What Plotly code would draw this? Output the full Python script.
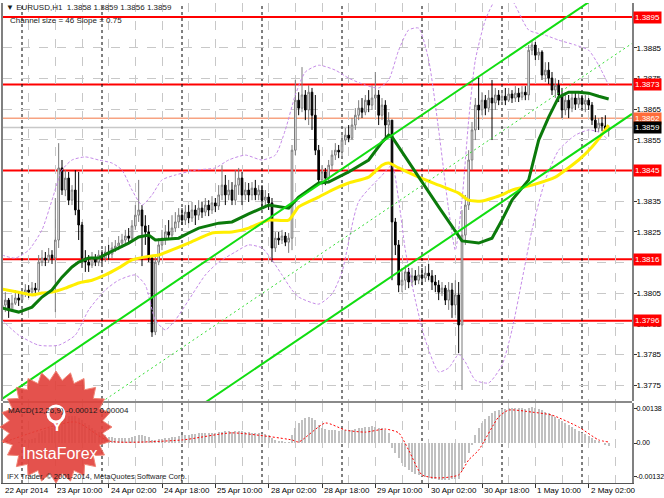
import math
import plotly.graph_objects as go
from plotly.subplots import make_subplots

# geometry of the picture (px)
W, H = 664, 498
ML, MR, MT, MB = 3, 32, 3, 15
PW, PH = W - ML - MR, H - MT - MB


def paper(x, y):
    return (x - ML) / PW, (H - MB - y) / PH


#------------------------------------------------------------------------------------------------
# EURUSD H1, 22 Apr 18:00 .. 2 May 08:00 (bar index)
first_open = 1.38000
closes = [
    1.38011, 1.38027, 1.37995, 1.38017, 1.38034, 1.38027, 1.38047, 1.38060, 1.38053, 1.38066,
    1.38060, 1.38151, 1.38164, 1.38158, 1.38174, 1.38164, 1.38223, 1.38458, 1.38386, 1.38425,
    1.38353, 1.38386, 1.38321, 1.38272, 1.38164, 1.38151, 1.38141, 1.38164, 1.38151, 1.38174,
    1.38164, 1.38184, 1.38177, 1.38197, 1.38203, 1.38213, 1.38223, 1.38236, 1.38229, 1.38269,
    1.38304, 1.38321, 1.38269, 1.38249, 1.38164, 1.37923, 1.38151, 1.38207, 1.38229, 1.38249,
    1.38239, 1.38262, 1.38282, 1.38304, 1.38288, 1.38314, 1.38295, 1.38321, 1.38304, 1.38327,
    1.38314, 1.38337, 1.38321, 1.38344, 1.38334, 1.38370, 1.38402, 1.38370, 1.38386, 1.38353,
    1.38402, 1.38425, 1.38370, 1.38386, 1.38370, 1.38392, 1.38370, 1.38386, 1.38353, 1.38363,
    1.38344, 1.38197, 1.38229, 1.38223, 1.38236, 1.38216, 1.38229, 1.38516, 1.38679, 1.38653,
    1.38696, 1.38647, 1.38705, 1.38630, 1.38516, 1.38419, 1.38445, 1.38425, 1.38467, 1.38500,
    1.38516, 1.38510, 1.38549, 1.38565, 1.38555, 1.38598, 1.38630, 1.38653, 1.38640, 1.38679,
    1.38663, 1.38686, 1.38696, 1.38630, 1.38663, 1.38598, 1.38614, 1.38282, 1.38207, 1.38076,
    1.38092, 1.38119, 1.38086, 1.38106, 1.38092, 1.38109, 1.38099, 1.38115, 1.38106, 1.38086,
    1.38076, 1.38053, 1.38066, 1.38027, 1.38060, 1.38011, 1.38044, 1.37946, 1.38239, 1.38337,
    1.38484, 1.38582, 1.38663, 1.38647, 1.38679, 1.38653, 1.38686, 1.38670, 1.38696, 1.38679,
    1.38692, 1.38679, 1.38699, 1.38686, 1.38702, 1.38689, 1.38705, 1.38696, 1.38842, 1.38859,
    1.38826, 1.38836, 1.38761, 1.38777, 1.38751, 1.38712, 1.38728, 1.38696, 1.38647, 1.38679,
    1.38653, 1.38686, 1.38666, 1.38686, 1.38666, 1.38679, 1.38663, 1.38614, 1.38588, 1.38604,
    1.38595, 1.38580, 1.38590,
]
highs = [
    1.38044, 1.38053, 1.38034, 1.38044, 1.38060, 1.38053, 1.38066, 1.38079, 1.38076, 1.38086,
    1.38083, 1.38174, 1.38190, 1.38184, 1.38197, 1.38190, 1.38360, 1.38539, 1.38484, 1.38451,
    1.38445, 1.38402, 1.38451, 1.38445, 1.38282, 1.38190, 1.38174, 1.38184, 1.38177, 1.38190,
    1.38190, 1.38203, 1.38207, 1.38216, 1.38223, 1.38236, 1.38243, 1.38256, 1.38262, 1.38288,
    1.38337, 1.38419, 1.38337, 1.38304, 1.38272, 1.38174, 1.38174, 1.38229, 1.38256, 1.38272,
    1.38288, 1.38304, 1.38314, 1.38327, 1.38327, 1.38337, 1.38337, 1.38347, 1.38337, 1.38353,
    1.38347, 1.38360, 1.38353, 1.38366, 1.38360, 1.38402, 1.38467, 1.38435, 1.38419, 1.38412,
    1.38451, 1.38458, 1.38445, 1.38412, 1.38409, 1.38412, 1.38419, 1.38402, 1.38402, 1.38386,
    1.38376, 1.38360, 1.38249, 1.38249, 1.38256, 1.38249, 1.38246, 1.38533, 1.38745, 1.38705,
    1.38787, 1.38712, 1.38728, 1.38719, 1.38696, 1.38533, 1.38467, 1.38458, 1.38484, 1.38516,
    1.38539, 1.38533, 1.38565, 1.38588, 1.38598, 1.38621, 1.38653, 1.38679, 1.38686, 1.38696,
    1.38712, 1.38728, 1.38771, 1.38712, 1.38686, 1.38679, 1.38640, 1.38614, 1.38295, 1.38223,
    1.38132, 1.38141, 1.38132, 1.38132, 1.38125, 1.38138, 1.38132, 1.38138, 1.38145, 1.38125,
    1.38109, 1.38092, 1.38086, 1.38076, 1.38086, 1.38083, 1.38092, 1.38086, 1.38321, 1.38370,
    1.38516, 1.38608, 1.38686, 1.38754, 1.38705, 1.38696, 1.38712, 1.38745, 1.38719, 1.38712,
    1.38712, 1.38719, 1.38719, 1.38712, 1.38725, 1.38719, 1.38725, 1.38725, 1.38859, 1.38875,
    1.38869, 1.38849, 1.38842, 1.38803, 1.38803, 1.38771, 1.38751, 1.38745, 1.38719, 1.38705,
    1.38696, 1.38705, 1.38705, 1.38705, 1.38696, 1.38696, 1.38686, 1.38673, 1.38630, 1.38621,
    1.38624, 1.38630, 1.38590,
]
lows = [
    1.37897, 1.37988, 1.37969, 1.37988, 1.38011, 1.38008, 1.38021, 1.38037, 1.38034, 1.38044,
    1.38040, 1.38053, 1.38138, 1.38138, 1.38148, 1.38145, 1.37988, 1.38197, 1.38370, 1.38366,
    1.38337, 1.38337, 1.38304, 1.38223, 1.38132, 1.38119, 1.38119, 1.38132, 1.38138, 1.38138,
    1.38145, 1.38151, 1.38158, 1.38164, 1.38184, 1.38190, 1.38197, 1.38210, 1.38210, 1.38216,
    1.38256, 1.38282, 1.38138, 1.38207, 1.38151, 1.37907, 1.37913, 1.38141, 1.38190, 1.38207,
    1.38223, 1.38229, 1.38249, 1.38262, 1.38272, 1.38272, 1.38278, 1.38282, 1.38272, 1.38288,
    1.38295, 1.38301, 1.38301, 1.38308, 1.38314, 1.38321, 1.38353, 1.38337, 1.38353, 1.38337,
    1.38337, 1.38370, 1.38337, 1.38353, 1.38347, 1.38353, 1.38353, 1.38353, 1.38331, 1.38331,
    1.38321, 1.38151, 1.38184, 1.38207, 1.38210, 1.38203, 1.38181, 1.38190, 1.38500, 1.38630,
    1.38640, 1.38614, 1.38598, 1.38582, 1.38500, 1.38402, 1.38402, 1.38402, 1.38412, 1.38451,
    1.38484, 1.38490, 1.38497, 1.38533, 1.38542, 1.38549, 1.38582, 1.38614, 1.38621, 1.38630,
    1.38640, 1.38647, 1.38647, 1.38598, 1.38614, 1.38549, 1.38565, 1.38092, 1.38174, 1.38053,
    1.38053, 1.38060, 1.38066, 1.38073, 1.38076, 1.38079, 1.38076, 1.38086, 1.38092, 1.38060,
    1.38053, 1.38027, 1.38040, 1.38011, 1.37995, 1.37969, 1.37978, 1.37854, 1.37734, 1.38207,
    1.38321, 1.38451, 1.38549, 1.38582, 1.38630, 1.38630, 1.38640, 1.38549, 1.38647, 1.38663,
    1.38666, 1.38663, 1.38673, 1.38670, 1.38673, 1.38673, 1.38679, 1.38679, 1.38679, 1.38826,
    1.38810, 1.38810, 1.38745, 1.38738, 1.38732, 1.38696, 1.38686, 1.38673, 1.38621, 1.38630,
    1.38621, 1.38640, 1.38647, 1.38653, 1.38647, 1.38640, 1.38647, 1.38598, 1.38575, 1.38575,
    1.38578, 1.38572, 1.38560,
]

ma_fast_bar = [0, 5, 9, 12, 15, 18, 21, 23, 26, 29, 32, 35, 38, 41, 44, 46, 53, 56, 59, 65,
               69, 74, 80, 86, 89, 95, 98, 104, 110, 114, 116, 117, 125, 131, 138, 143, 147, 150, 153, 158,
               161, 164, 167, 170, 173, 176, 179, 182]
ma_fast = [1.38001, 1.37988, 1.38004, 1.38037, 1.38060, 1.38102, 1.38135, 1.38151, 1.38164, 1.38164,
           1.38181, 1.38197, 1.38213, 1.38233, 1.38239, 1.38223, 1.38229, 1.38246, 1.38262, 1.38278,
           1.38282, 1.38308, 1.38337, 1.38327, 1.38363, 1.38409, 1.38412, 1.38445, 1.38484, 1.38542,
           1.38565, 1.38559, 1.38428, 1.38331, 1.38220, 1.38213, 1.38229, 1.38288, 1.38353, 1.38419,
           1.38549, 1.38624, 1.38689, 1.38705, 1.38705, 1.38702, 1.38692, 1.38683]

ma_slow_bar = [0, 5, 9, 12, 15, 19, 23, 27, 31, 35, 39, 43, 47, 56, 63, 69, 74, 80, 86, 89,
               95, 99, 104, 110, 114, 116, 119, 125, 131, 137, 140, 144, 150, 153, 159, 166, 173, 177, 181, 182]
ma_slow = [1.38063, 1.38053, 1.38044, 1.38050, 1.38053, 1.38066, 1.38083, 1.38092, 1.38109, 1.38132,
           1.38158, 1.38168, 1.38174, 1.38213, 1.38246, 1.38249, 1.38262, 1.38288, 1.38288, 1.38331,
           1.38363, 1.38386, 1.38409, 1.38428, 1.38467, 1.38474, 1.38458, 1.38428, 1.38402, 1.38376,
           1.38353, 1.38350, 1.38370, 1.38386, 1.38402, 1.38428, 1.38484, 1.38526, 1.38582, 1.38598]

# bollinger envelope
upper_bb_bar = [0, 4, 8, 12, 15, 18, 21, 25, 29, 33, 36, 39, 42, 45, 48, 52, 58, 64, 68, 73,
                78, 82, 85, 88, 91, 95, 100, 104, 109, 113, 116, 119, 122, 125, 128, 131, 134, 136, 138, 140,
                142, 145, 148, 152, 158, 163, 167, 172, 176, 179, 182]
upper_bb = [1.38174, 1.38164, 1.38190, 1.38256, 1.38353, 1.38451, 1.38484, 1.38494, 1.38484, 1.38474,
            1.38451, 1.38386, 1.38337, 1.38370, 1.38419, 1.38435, 1.38451, 1.38458, 1.38484, 1.38500,
            1.38484, 1.38500, 1.38582, 1.38696, 1.38771, 1.38793, 1.38777, 1.38751, 1.38728, 1.38719,
            1.38745, 1.38842, 1.38908, 1.38914, 1.38810, 1.38582, 1.38321, 1.38190, 1.38353, 1.38614,
            1.38810, 1.38940, 1.39005, 1.39020, 1.38908, 1.38891, 1.38875, 1.38859, 1.38842, 1.38793,
            1.38728]
lower_bb_bar = [0, 5, 11, 17, 22, 26, 31, 35, 40, 43, 46, 49, 52, 56, 61, 65, 70, 74, 78, 81,
                84, 87, 89, 95, 99, 102, 107, 114, 117, 119, 121, 124, 127, 131, 134, 137, 139, 142, 146, 150,
                153, 156, 159, 163, 167, 172, 176, 179, 182]
lower_bb = [1.37962, 1.37913, 1.37880, 1.37880, 1.37913, 1.37995, 1.38060, 1.38092, 1.38109, 1.38076,
            1.37962, 1.37930, 1.37962, 1.38027, 1.38109, 1.38151, 1.38184, 1.38207, 1.38197, 1.38158,
            1.38109, 1.38060, 1.38037, 1.38014, 1.38047, 1.38119, 1.38348, 1.38434, 1.38467, 1.38353,
            1.38190, 1.38027, 1.37897, 1.37793, 1.37806, 1.37850, 1.37825, 1.37766, 1.37757, 1.37815,
            1.37930, 1.38092, 1.38256, 1.38419, 1.38516, 1.38565, 1.38582, 1.38575, 1.38549]

# regression channel
channel_start = 1.37705      # upper line at bar 0
channel_slope = 0.0000735    # per bar
channel_size = 0.0046

levels = [1.3895, 1.3873, 1.3845, 1.3816, 1.3796]
ask_price = 1.3862
bid_price = 1.3859

# MACD(12,26,9)
macd_hist = [
    0.00005, 0.00003, 0.0, -0.00002, 0.0, 0.00003, 0.00006, 0.0001, 0.00012, 0.00015,
    0.0002, 0.0004, 0.00048, 0.00052, 0.00058, 0.0006, 0.00068, 0.00085, 0.00095, 0.00102,
    0.00105, 0.00108, 0.00105, 0.001, 0.0009, 0.0008, 0.0007, 0.0006, 0.0005, 0.00042,
    0.00035, 0.0003, 0.00025, 0.00022, 0.0002, 0.0002, 0.0002, 0.0002, 0.0002, 0.00022,
    0.00026, 0.0003, 0.0003, 0.00028, 0.00024, 0.00012, 0.00012, 0.00014, 0.00016, 0.00018,
    0.0002, 0.00022, 0.00025, 0.00028, 0.0003, 0.00032, 0.00033, 0.00035, 0.00036, 0.00038,
    0.00038, 0.0004, 0.0004, 0.0004, 0.0004, 0.00042, 0.00045, 0.00046, 0.00046, 0.00045,
    0.00046, 0.00048, 0.00046, 0.00044, 0.00042, 0.0004, 0.0004, 0.00038, 0.00036, 0.00034,
    0.00032, 0.0002, 0.00012, 0.00008, 0.00005, 0.00003, 0.00002, 0.0003, 0.0006, 0.0008,
    0.00092, 0.001, 0.00102, 0.001, 0.0009, 0.0007, 0.0006, 0.00055, 0.0005, 0.0005,
    0.0005, 0.00048, 0.0005, 0.0005, 0.0005, 0.00052, 0.00055, 0.00058, 0.0006, 0.00062,
    0.00064, 0.00066, 0.00065, 0.0006, 0.00058, 0.0005, 0.0004, -0.0002, -0.0004, -0.0006,
    -0.0008, -0.00095, -0.00105, -0.00115, -0.00122, -0.00128, -0.00132, -0.00136, -0.00139, -0.00141,
    -0.00143, -0.00145, -0.00145, -0.00146, -0.00145, -0.00144, -0.00142, -0.00142, -0.0011, -0.0008,
    -0.0004, -0.00005, 0.0003, 0.0006, 0.0008, 0.00095, 0.00108, 0.00118, 0.00125, 0.0013,
    0.00134, 0.00136, 0.00138, 0.0014, 0.0014, 0.0014, 0.00138, 0.00136, 0.0014, 0.00142,
    0.0014, 0.00135, 0.0013, 0.00124, 0.00118, 0.0011, 0.00102, 0.00094, 0.00085, 0.00078,
    0.0007, 0.00062, 0.00055, 0.00048, 0.0004, 0.00034, 0.00028, 0.0002, 0.00012, 0.00006,
    0.0, -0.00006, -0.00012,
]
signal_bar = [0, 22, 32, 54, 69, 87, 89, 97, 103, 109, 115, 119, 122, 126, 131, 137, 140, 143, 149, 152,
              159, 165, 173, 179, 182]
signal = [0.0, 0.00083, 0.00008, 0.00012, 0.0004, 0.00012, 0.00004, 0.00079, 0.00051, 0.00043,
          0.00055, 0.0004, -0.00028, -0.00126, -0.00138, -0.00126, -0.00067, -0.00028, 0.00103, 0.0013,
          0.00122, 0.0011, 0.00063, 0.00012, 0.00004]

time_labels = ['22 Apr 2014', '23 Apr 10:00', '24 Apr 02:00', '24 Apr 18:00', '25 Apr 10:00',
               '28 Apr 02:00', '28 Apr 18:00', '29 Apr 10:00', '30 Apr 02:00', '30 Apr 18:00',
               '1 May 10:00', '2 May 02:00']
label_step = 16
day_starts = [6, 30, 54, 78, 102, 126, 150, 174]

price_ticks = [1.3775, 1.3785, 1.3795, 1.3805, 1.3815, 1.3825, 1.3835,
               1.3855, 1.3865, 1.3875, 1.3885]

#------------------------------------------------------------------------------------------------
bars = list(range(len(closes)))
opens = [first_open] + closes[:-1]
x_range = [0.3, 189]

FONT = 'Liberation Sans, Arial, sans-serif'
GRID = '#c8c8c8'

fig = make_subplots(rows=2, cols=1, shared_xaxes=True, vertical_spacing=0.0)

# bollinger bands
for bx, by in [(upper_bb_bar, upper_bb), (lower_bb_bar, lower_bb)]:
    fig.add_trace(go.Scatter(
        x    = bx,
        y    = by,
        mode = 'lines',
        line = dict(color='#c58be8', width=1, dash='3px,2px', shape='spline', smoothing=0.6)
    ), row=1, col=1)

fig.add_trace(go.Scatter(
    x    = ma_slow_bar,
    y    = ma_slow,
    mode = 'lines',
    line = dict(color='#ffee00', width=3, shape='spline', smoothing=0.5)
), row=1, col=1)

fig.add_trace(go.Scatter(
    x    = ma_fast_bar,
    y    = ma_fast,
    mode = 'lines',
    line = dict(color='#0b7a0b', width=3)
), row=1, col=1)

fig.add_trace(go.Candlestick(
    x            = bars,
    open         = opens,
    high         = highs,
    low          = lows,
    close        = closes,
    whiskerwidth = 0,
    increasing   = dict(line=dict(color='#7a7a7a', width=1), fillcolor='#ffffff'),
    decreasing   = dict(line=dict(color='#000000', width=1), fillcolor='#000000'),
    hoverinfo    = 'skip'
), row=1, col=1)

fig.add_trace(go.Bar(
    x            = bars,
    y            = macd_hist,
    marker_color = '#c0c0c0',
    marker_line_width = 0,
    width        = 0.6
), row=2, col=1)

fig.add_trace(go.Scatter(
    x    = signal_bar,
    y    = signal,
    mode = 'lines',
    line = dict(color='#ff0000', width=1, dash='2px,2px', shape='spline', smoothing=0.6)
), row=2, col=1)

# channel lines
x_end = x_range[1]
for offset, width, dash, color in [(0, 2, 'solid', '#11dd11'),
                                   (channel_size, 2, 'solid', '#11dd11'),
                                   (channel_size / 2, 1, '2px,3px', '#33dd33')]:
    fig.add_shape(type='line', xref='x', yref='y',
                  x0=0, y0=channel_start - offset,
                  x1=x_end, y1=channel_start - offset + channel_slope * x_end,
                  line=dict(color=color, width=width, dash=dash), layer='above')

# support / resistance levels
LABEL_FONT = dict(family=FONT, size=8, color='white')
for lv in levels:
    fig.add_shape(type='line', xref='paper', yref='y', x0=0, x1=1, y0=lv, y1=lv,
                  line=dict(color='#ff0000', width=2), layer='between')
    fig.add_annotation(x=1, y=lv, xref='paper', yref='y', xanchor='left', xshift=1,
                       text=f'{lv:.4f}', showarrow=False, bgcolor='#ff0000', borderpad=1,
                       font=LABEL_FONT)

fig.add_shape(type='line', xref='paper', yref='y', x0=0, x1=1, y0=ask_price, y1=ask_price,
              line=dict(color='#f7a382', width=1.5), layer='between')
fig.add_shape(type='line', xref='paper', yref='y', x0=0, x1=1, y0=bid_price, y1=bid_price,
              line=dict(color='#c8c8c8', width=1.5), layer='between')
fig.add_annotation(x=1, y=ask_price, xref='paper', yref='y', xanchor='left', xshift=1,
                   text=f'{ask_price:.4f}', showarrow=False, bgcolor='#ff6d3a', borderpad=1,
                   font=LABEL_FONT)
fig.add_annotation(x=1, y=bid_price, xref='paper', yref='y', xanchor='left', xshift=1,
                   text=f'{bid_price:.4f}', showarrow=False, bgcolor='#000000', borderpad=1,
                   font=LABEL_FONT)

# day separators
for d in day_starts:
    fig.add_shape(type='line', xref='x', yref='paper', x0=d, x1=d, y0=0, y1=1,
                  line=dict(color='#000000', width=1, dash='3px,3px'), layer='between')

# panel separator
y_a = paper(0, 401)[1]
y_b = paper(0, 403)[1]
fig.add_shape(type='rect', xref='paper', yref='paper', x0=0, x1=1, y0=y_b, y1=y_a,
              fillcolor='#8a8a8a', line_width=0, layer='above')

# time labels (first one sits on the left edge of the visible range)
for k, lab in enumerate(time_labels):
    fig.add_annotation(x=max(k * label_step, x_range[0]), y=0, xref='x', yref='paper',
                       xanchor='left', yanchor='top', yshift=-1, text=lab, showarrow=False,
                       font=dict(family=FONT, size=8, color='black'))

# InstaForex badge
cx, cy, r_out, r_in, n_spikes = 56, 427, 56, 47, 24
pts = []
for k in range(2 * n_spikes):
    r = r_out if k % 2 == 0 else r_in
    a = math.pi * k / n_spikes
    pts.append(paper(cx + r * math.cos(a), cy + r * math.sin(a)))
path = 'M ' + ' L '.join(f'{p[0]:.5f},{p[1]:.5f}' for p in pts) + ' Z'
fig.add_shape(type='path', path=path, xref='paper', yref='paper', fillcolor='#e2403a',
              line=dict(color='#ef7a6a', width=1), opacity=0.9, layer='above')
ix0, iy0 = paper(cx - 8, 406)
ix1, iy1 = paper(cx + 8, 422)
fig.add_shape(type='circle', xref='paper', yref='paper', x0=ix0, y0=iy0, x1=ix1, y1=iy1,
              line=dict(color='white', width=3), layer='above')
lx, ly = paper(cx + 1, 425)
fig.add_annotation(x=lx, y=ly, xref='paper', yref='paper', xanchor='center', yanchor='middle',
                   text='<b>Y</b>', showarrow=False,
                   font=dict(family=FONT, size=15, color='white'))
tx, ty = paper(cx + 4, 453)
fig.add_annotation(x=tx, y=ty, xref='paper', yref='paper', xanchor='center', yanchor='middle',
                   text='InstaForex', showarrow=False,
                   font=dict(family=FONT, size=16, color='white'))

# texts
for xpx, ypx, txt, size in [(4, 8, '▼ EURUSD,H1  1.3858 1.3859 1.3856 1.3859', 8),
                            (8, 21, 'Channel size = 46 Slope = 0.75', 8),
                            (6, 410, 'MACD(12,26,9) -0.00012 0.00004', 8),
                            (5, 476, 'IFX Trader, © 2001-2014, MetaQuotes Software Corp.', 7.5)]:
    ax, ay = paper(xpx, ypx)
    fig.add_annotation(x=ax, y=ay, xref='paper', yref='paper', xanchor='left', yanchor='middle',
                       text=txt, showarrow=False,
                       font=dict(family=FONT, size=size, color='#1a1a1a'))

#------------------------------------------------------------------------------------------------
xaxis_common = dict(
    range          = x_range,
    tickmode       = 'linear',
    tick0          = 0,
    dtick          = label_step,
    showticklabels = False,
    showgrid       = True,
    gridcolor      = GRID,
    griddash       = 'dash',
    gridwidth      = 1,
    minor          = dict(tick0=0, dtick=8, showgrid=True, gridcolor=GRID, griddash='dash'),
    zeroline       = False,
    rangeslider    = dict(visible=False),
)

yaxis_common = dict(
    side              = 'right',
    ticks             = 'outside',
    ticklen           = 3,
    tickcolor         = '#333333',
    ticklabelstandoff = -2,
    zeroline          = False,
    showline          = True,
    mirror            = True,
    linecolor         = '#808080',
    linewidth         = 2,
    automargin        = False,
)

fig.update_layout(
    width         = W,
    height        = H,
    margin        = dict(l=ML, r=MR, t=MT, b=MB),
    plot_bgcolor  = 'white',
    paper_bgcolor = 'white',
    showlegend    = False,
    hovermode     = False,
    bargap        = 0,
    font          = dict(family=FONT, size=8, color='black'),
    xaxis         = dict(xaxis_common, showline=False),
    xaxis2        = dict(xaxis_common, ticks='outside', ticklen=4, tickcolor='#333333',
                         showline=True, linecolor='#555555', linewidth=1),
    yaxis         = dict(
        yaxis_common,
        domain    = [paper(0, 401)[1], 1],
        range     = [1.37698, 1.38996],
        tickvals  = price_ticks,
        ticktext  = [f'{t:.4f}' for t in price_ticks],
        tickfont  = dict(family=FONT, size=8, color='black'),
        showgrid  = True,
        gridcolor = GRID,
        griddash  = 'dash',
    ),
    yaxis2        = dict(
        yaxis_common,
        domain    = [0, paper(0, 403)[1]],
        range     = [-0.00158, 0.00158],
        tickvals  = [0.00138, 0.0, -0.00132],
        ticktext  = ['0.00138', '0.00', '-0.00132'],
        tickfont  = dict(family=FONT, size=7, color='black'),
        showgrid  = False,
    ),
)

fig.write_html('out.html', config={'displayModeBar': False},
               post_script="document.body.style.margin='0px';")
